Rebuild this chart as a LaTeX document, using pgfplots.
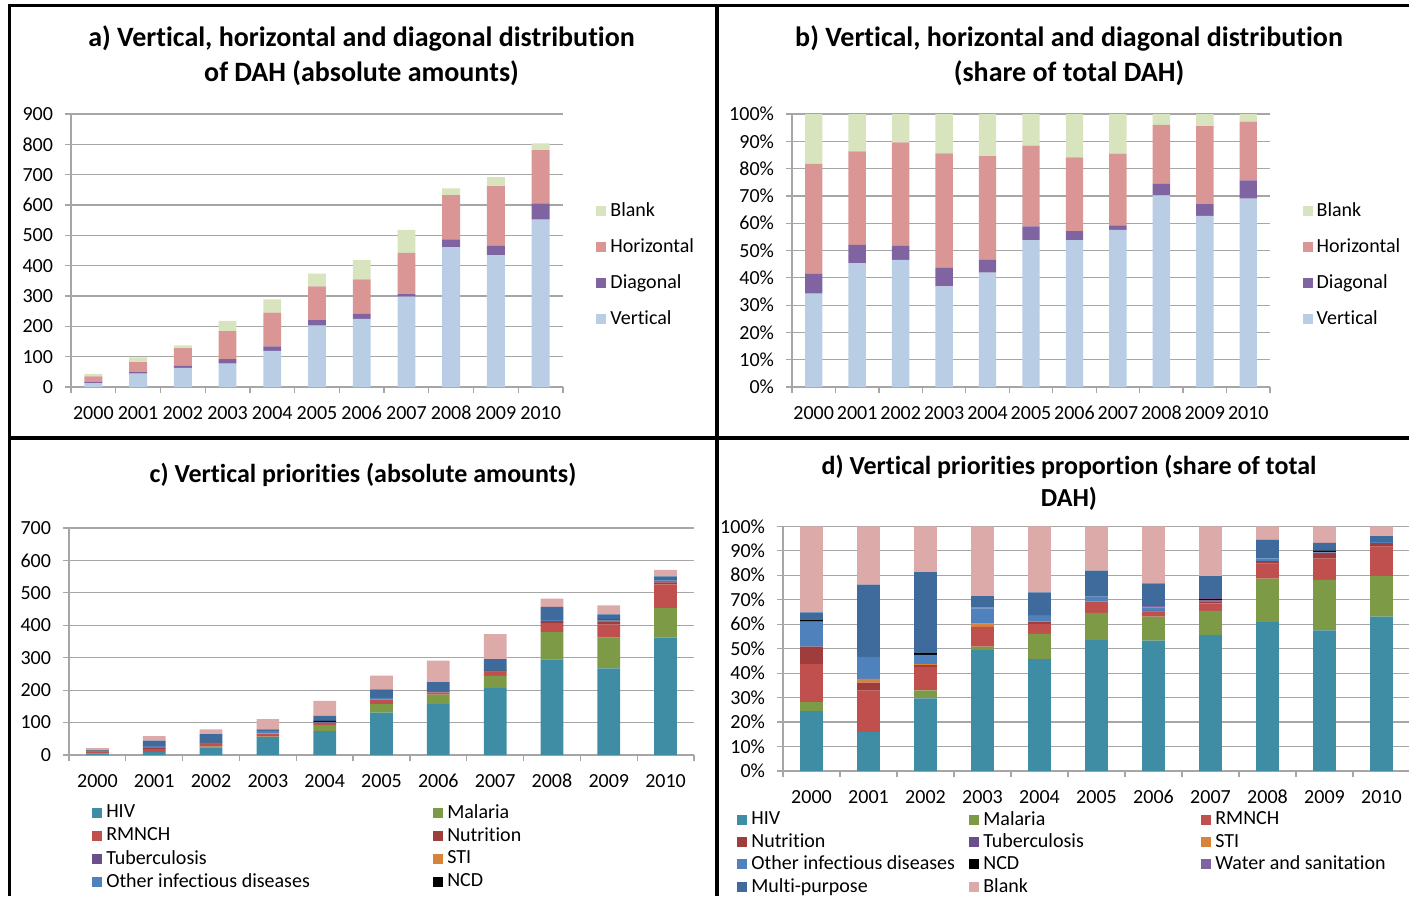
\documentclass[border=0pt]{standalone}
\usepackage{fontspec}
\setmainfont{Carlito}[Ligatures=NoCommon]
\usepackage{pgfplots}
\usepackage{pgfplotstable}
\pgfplotsset{compat=1.18}

\definecolor{gridgray}{HTML}{A6A6A6}
\definecolor{cVert}{HTML}{B9CDE5}
\definecolor{cDiag}{HTML}{8064A2}
\definecolor{cHor}{HTML}{D99694}
\definecolor{cBlankA}{HTML}{D7E4BD}
\definecolor{cHIV}{HTML}{3F8DA4}
\definecolor{cMal}{HTML}{7D9B46}
\definecolor{cRMN}{HTML}{C0504D}
\definecolor{cNut}{HTML}{9E3D3B}
\definecolor{cTB}{HTML}{6A4F8B}
\definecolor{cSTI}{HTML}{D9823B}
\definecolor{cOth}{HTML}{4F81BD}
\definecolor{cNCD}{HTML}{000000}
\definecolor{cWat}{HTML}{8064A2}
\definecolor{cMul}{HTML}{3E6A9C}
\definecolor{cBlank}{HTML}{DDAAAA}

\newcommand\ticksize{\fontsize{10}{12}\selectfont}

% panel a: absolute amounts
\pgfplotstableread{
x V D H B
0 13 4.5 17.5 8
1 44 7 31 16
2 63 7 58 9
3 77 15 92 34
4 119 15 111 44
5 202 20 110 42
6 225 16 114 64
7 298 8 136 76
8 461 26 146 22
9 434 31 197 30
10 552 53 176 22
}\tabA

% panel b: shares (%)
\pgfplotstableread{
x V D H B
0 34.2 7.2 40.3 18.3
1 45.4 6.7 34.2 13.7
2 46.6 5.1 37.9 10.4
3 36.9 6.7 42.0 14.4
4 41.9 4.7 38.0 15.4
5 53.8 5.0 29.6 11.6
6 53.8 3.3 27.0 15.9
7 57.6 1.6 26.3 14.5
8 70.2 4.2 21.6 4.0
9 62.7 4.5 28.4 4.4
10 69.0 6.7 21.5 2.8
}\tabB

% panel c: vertical priorities, absolute
\pgfplotstableread{
x HIV Mal RMN Nut TB STI Oth NCD Wat Mul Bla
0 5.3 0.8 3.3 1.5 0 0 2.2 0.2 0 0.6 7.5
1 9.3 0 9.9 1.9 0 0.9 5.2 0 0 17.3 13.9
2 23.5 2.6 7.6 0.6 0 0.3 3.0 0.6 0 26.1 14.8
3 55 1.4 9 0 0 1.4 7 0 0.4 5.1 31.6
4 74 18 6 1 0.5 0.5 2 3 0 16 46
5 131 26 14 0 0 0 5 0 0 26 43
6 157 29 6 1 0 0 2 0 0 30 66
7 206 38 12 2 1 0 1.5 1 0 34 77
8 295 84 28 6 0 0 4 0 0 40 25
9 267 95 40 10 2 0 1.5 1.5 0 17 27.5
10 362 91 73 6 2 0 4 0 0 13 20
}\tabC

% panel d: vertical priorities, share (%)
\pgfplotstableread{
x HIV Mal RMN Nut TB STI Oth NCD Wat Mul Bla
0 24.5 3.7 15.5 7.1 0 0 10.2 0.9 0 2.9 35.2
1 15.9 0 16.9 3.3 0 1.6 8.9 0 0 29.6 23.8
2 29.7 3.3 9.6 0.7 0 0.4 3.8 0.7 0 33.1 18.7
3 49.5 1.3 8.1 0 0 1.3 6.3 0 0.4 4.6 28.5
4 45.8 10.2 4.1 0.7 0 0.5 2.1 0 0.4 9.2 27.0
5 53.5 11.1 4.6 0 0 0 2.1 0 0 10.6 18.1
6 53.3 9.8 2.0 0.3 0 0 1.5 0 0.5 9.3 23.3
7 55.6 9.8 3.1 0.7 0.5 0 0 0.6 0.4 8.9 20.4
8 60.8 17.8 6.1 1.1 0 0 1.1 0 0 7.7 5.4
9 57.5 20.6 8.7 1.9 0.5 0 0.4 0.5 0 3.1 6.8
10 63.1 16.5 12.1 1.4 0 0 0.4 0 0 2.5 4.0
}\tabD

\pgfplotsset{
  excel/.style={
    scale only axis, anchor=south west,
    ybar stacked, bar width=0.4,
    xmin=-0.5, xmax=10.5, ymin=0,
    enlargelimits=false,
    axis x line*=bottom, axis y line*=left,
    axis line style={draw=gridgray, line width=0.6pt},
    xtick={0,...,10},
    xticklabels={2000,2001,2002,2003,2004,2005,2006,2007,2008,2009,2010},
    minor xtick={-0.5,0.5,...,10.5},
    tick align=outside,
    major tick length=3pt, minor tick length=3pt,
    major x tick style={draw=none},
    minor x tick style={draw=gridgray, line width=0.6pt},
    y tick style={draw=gridgray, line width=0.6pt},
    ymajorgrids, major grid style={draw=gridgray, line width=0.6pt},
    tick label style={font=\ticksize},
    xticklabel style={yshift=-3.4pt, text height=6.5pt, text depth=0pt},
    yticklabel style={xshift=-2.5pt},
    /pgf/number format/assume math mode=true,
    legend style={draw=none, fill=none, font=\ticksize},
    legend cell align=left,
    every axis plot/.append style={draw=none},
    every axis plot post/.append style={
      legend image code/.code={\fill[##1] (0pt,-2.5pt) rectangle (5pt,2.5pt);}},
  },
}

\begin{document}
\begin{tikzpicture}
\path[use as bounding box] (0,0) rectangle (704.5pt,448pt);

% frames
\draw[line width=1.6pt] (4.75pt,0) -- (4.75pt,445.25pt) -- (704.5pt,445.25pt);
\draw[line width=2pt] (358.5pt,0) -- (358.5pt,446pt);
\draw[line width=2pt] (4pt,229.15pt) -- (704.5pt,229.15pt);

% titles
\node[font=\fontsize{14}{17.5}\selectfont\bfseries, align=center] at (180.75pt,420.25pt)
  {a) Vertical, horizontal and diagonal distribution\\of DAH (absolute amounts)};
\node[font=\fontsize{14}{17.5}\selectfont\bfseries, align=center] at (534.5pt,420.25pt)
  {b) Vertical, horizontal and diagonal distribution\\(share of total DAH)};
\node[font=\fontsize{13}{16}\selectfont\bfseries, align=center] at (181.5pt,210.5pt)
  {c) Vertical priorities (absolute amounts)};
\node[font=\fontsize{13}{16}\selectfont\bfseries, align=center] at (534.5pt,206.5pt)
  {d) Vertical priorities proportion (share of total\\DAH)};

% a)
\begin{axis}[excel, at={(35.5pt,254.5pt)}, width=246pt, height=136.5pt,
  ymax=900, ytick={0,100,...,900},
  reverse legend,
  legend style={at={(1.055,0.705)}, anchor=north west, row sep=5.5pt}]
  \addplot[fill=cVert] table[x=x,y=V] {\tabA};
  \addplot[fill=cDiag] table[x=x,y=D] {\tabA};
  \addplot[fill=cHor] table[x=x,y=H] {\tabA};
  \addplot[fill=cBlankA] table[x=x,y=B] {\tabA};
  \legend{Vertical,Diagonal,Horizontal,Blank}
\end{axis}

% b)
\begin{axis}[excel, at={(396pt,254.5pt)}, width=239pt, height=136.5pt,
  ymax=100, ytick={0,10,...,100},
  yticklabel={\pgfmathprintnumber{\tick}\%},
  reverse legend,
  legend style={at={(1.055,0.705)}, anchor=north west, row sep=5.5pt}]
  \addplot[fill=cVert] table[x=x,y=V] {\tabB};
  \addplot[fill=cDiag] table[x=x,y=D] {\tabB};
  \addplot[fill=cHor] table[x=x,y=H] {\tabB};
  \addplot[fill=cBlankA] table[x=x,y=B] {\tabB};
  \legend{Vertical,Diagonal,Horizontal,Blank}
\end{axis}

% c)
\begin{axis}[excel, at={(34.5pt,70.5pt)}, width=312.5pt, height=113.5pt,
  ymax=700, ytick={0,100,...,700},
  legend columns=2,
  legend style={at={(0.027,-0.18)}, anchor=north west, row sep=-0.9pt}]
  \addplot[fill=cHIV] table[x=x,y=HIV] {\tabC};
  \addplot[fill=cMal] table[x=x,y=Mal] {\tabC};
  \addplot[fill=cRMN] table[x=x,y=RMN] {\tabC};
  \addplot[fill=cNut] table[x=x,y=Nut] {\tabC};
  \addplot[fill=cTB] table[x=x,y=TB] {\tabC};
  \addplot[fill=cSTI] table[x=x,y=STI] {\tabC};
  \addplot[fill=cOth] table[x=x,y=Oth] {\tabC};
  \addplot[fill=cNCD] table[x=x,y=NCD] {\tabC};
  \addplot[fill=cWat] table[x=x,y=Wat] {\tabC};
  \addplot[fill=cMul] table[x=x,y=Mul] {\tabC};
  \addplot[fill=cBlank] table[x=x,y=Bla] {\tabC};
  \legend{\makebox[161.5pt][l]{HIV},Malaria,\makebox[161.5pt][l]{RMNCH},Nutrition,
    \makebox[161.5pt][l]{Tuberculosis},STI,\makebox[161.5pt][l]{Other infectious diseases},NCD}
\end{axis}

% d)
\begin{axis}[excel, at={(391.5pt,62.5pt)}, width=313.5pt, height=122.35pt,
  ymax=100, ytick={0,10,...,100},
  yticklabel={\pgfmathprintnumber{\tick}\%},
  legend columns=3,
  legend style={at={(-0.083,-0.13)}, anchor=north west, row sep=-1.25pt}]
  \addplot[fill=cHIV] table[x=x,y=HIV] {\tabD};
  \addplot[fill=cMal] table[x=x,y=Mal] {\tabD};
  \addplot[fill=cRMN] table[x=x,y=RMN] {\tabD};
  \addplot[fill=cNut] table[x=x,y=Nut] {\tabD};
  \addplot[fill=cTB] table[x=x,y=TB] {\tabD};
  \addplot[fill=cSTI] table[x=x,y=STI] {\tabD};
  \addplot[fill=cOth] table[x=x,y=Oth] {\tabD};
  \addplot[fill=cNCD] table[x=x,y=NCD] {\tabD};
  \addplot[fill=cWat] table[x=x,y=Wat] {\tabD};
  \addplot[fill=cMul] table[x=x,y=Mul] {\tabD};
  \addplot[fill=cBlank] table[x=x,y=Bla] {\tabD};
  \legend{\makebox[107pt][l]{HIV},\makebox[107pt][l]{Malaria},RMNCH,
    \makebox[107pt][l]{Nutrition},\makebox[107pt][l]{Tuberculosis},STI,
    \makebox[107pt][l]{Other infectious diseases},\makebox[107pt][l]{NCD},Water and sanitation,
    \makebox[107pt][l]{Multi-purpose},\makebox[107pt][l]{Blank}}
\end{axis}
\end{tikzpicture}
\end{document}
